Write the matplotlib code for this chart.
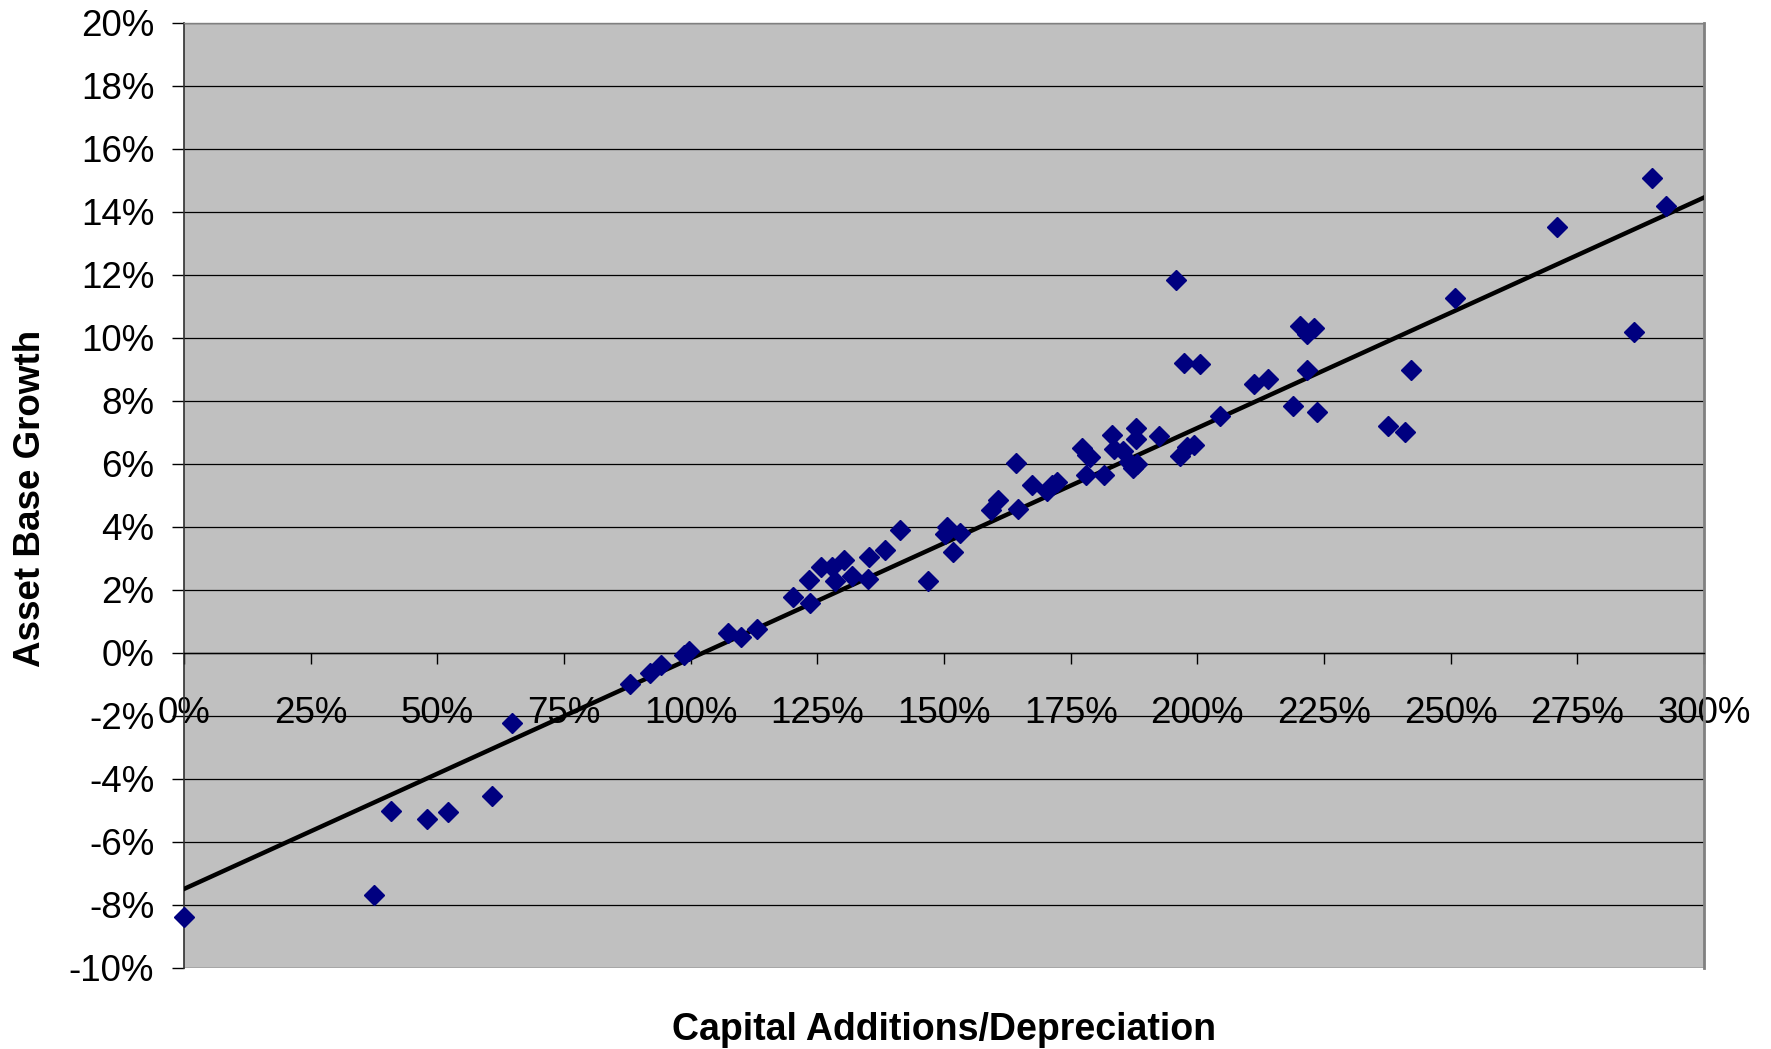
import numpy as np
import matplotlib
matplotlib.use("Agg")
import matplotlib.pyplot as plt
from matplotlib.ticker import FuncFormatter

# capital additions / depreciation (%) and asset base growth (%)
ratio = [0.0, 37.5, 40.8, 48.0, 52.2, 60.7, 64.7, 88.1, 91.9, 94.1,
         98.6, 99.7, 107.3, 110.0, 113.0, 120.2, 123.4, 123.6, 125.8, 127.8,
         128.5, 130.3, 131.8, 135.0, 135.2, 138.3, 141.4, 146.8, 150.1, 150.6,
         151.7, 153.2, 159.3, 160.6, 164.2, 164.6, 167.3, 170.4, 171.3, 172.2,
         177.3, 178.2, 178.0, 178.9, 181.6, 183.1, 183.6, 185.4, 186.5, 187.2,
         188.0, 187.8, 187.8, 192.5, 195.8, 196.5, 197.4, 197.9, 199.4, 200.5,
         204.5, 211.2, 213.9, 218.8, 220.2, 221.7, 223.1, 221.7, 223.7, 237.6,
         240.9, 242.2, 250.9, 271.0, 286.2, 289.7, 292.5]
growth = [-8.4, -7.7, -5.02, -5.27, -5.06, -4.56, -2.22, -1.0, -0.65, -0.4,
          -0.07, 0.04, 0.61, 0.5, 0.75, 1.76, 2.3, 1.58, 2.73, 2.73,
          2.26, 2.94, 2.44, 2.33, 3.05, 3.27, 3.91, 2.26, 3.77, 3.98,
          3.19, 3.8, 4.52, 4.84, 6.03, 4.56, 5.31, 5.13, 5.31, 5.42,
          6.49, 6.28, 5.63, 6.2, 5.63, 6.92, 6.46, 6.39, 6.06, 5.85,
          6.0, 6.78, 7.14, 6.89, 11.83, 6.24, 9.19, 6.53, 6.6, 9.15,
          7.5, 8.54, 8.68, 7.82, 10.37, 10.12, 10.3, 8.97, 7.64, 7.21,
          7.0, 8.96, 11.26, 13.52, 10.19, 15.08, 14.19]

# linear trendline end points
trend_x = [0, 300]
trend_y = [-7.5, 14.45]

x_ticks = np.arange(0, 301, 25)
y_ticks = np.arange(-10, 21, 2)

plt.rcParams["font.family"] = ["Liberation Sans", "DejaVu Sans"]

fig = plt.figure(figsize=(17.71, 10.49), dpi=100)
ax = fig.add_axes([0.1039, 0.0775, 0.8583, 0.9009])
ax.set_facecolor("#C0C0C0")

ax.set_xlim(0, 300)
ax.set_ylim(-10, 20)
ax.set_xticks(x_ticks)
ax.set_yticks(y_ticks)
pct = FuncFormatter(lambda v, _: f"{int(round(v))}%")
ax.xaxis.set_major_formatter(pct)
ax.yaxis.set_major_formatter(pct)

ax.grid(axis="y", color="black", lw=0.9, zorder=1)
ax.set_axisbelow(True)

ax.spines["bottom"].set_position(("data", 0))
ax.spines["bottom"].set_color("black")
ax.spines["bottom"].set_linewidth(1.0)
ax.spines["left"].set_color("#303030")
ax.spines["left"].set_linewidth(1.2)
ax.spines["right"].set_color("#808080")
ax.spines["right"].set_linewidth(2.0)
ax.spines["top"].set_color("#808080")
ax.spines["top"].set_linewidth(1.0)

ax.tick_params(axis="x", direction="out", length=8, width=1, pad=23, labelsize=26.5)
ax.tick_params(axis="y", direction="out", length=8.5, width=1, pad=13, labelsize=26.5)

ax.plot(ratio, growth, ls="none", marker="D", ms=9.8, color="#000080",
        zorder=5, clip_on=False)
ax.plot(trend_x, trend_y, color="black", lw=3.2, zorder=4)

label_font = ["Liberation Sans Narrow", "Liberation Sans", "DejaVu Sans"]
fig.text(0.5332, 0.018, "Capital Additions/Depreciation", ha="center", va="center",
         fontsize=27, fontweight="bold", family=label_font)
fig.text(0.0175, 0.525, "Asset Base Growth", ha="center", va="center", rotation=90,
         fontsize=26.5, fontweight="bold", family=label_font)

fig.savefig("out.png", dpi=100)
